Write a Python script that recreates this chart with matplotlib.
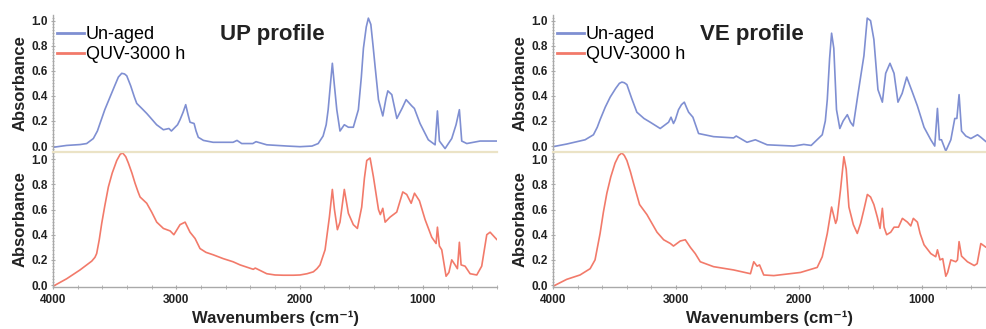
import matplotlib
matplotlib.use("Agg")
import matplotlib.pyplot as plt
from matplotlib.lines import Line2D
from matplotlib.ticker import MultipleLocator

plt.rcParams['font.family'] = ['Liberation Sans', 'DejaVu Sans']

# ---------------- data (wavenumber cm-1, absorbance) ----------------
up_unaged_wn = [4000, 3889, 3780, 3727, 3673, 3640, 3619, 3580, 3538, 3500, 3470, 3443, 3420, 3402, 3370,
                3340, 3321, 3280, 3240, 3213, 3160, 3105, 3060, 3040, 3020,
                2990, 2970, 2945, 2924, 2905, 2889, 2856, 2840, 2822, 2780, 2702, 2540, 2508, 2470, 2380,
                2354, 2267, 2100, 1997, 1900,
                1850, 1810, 1785, 1769, 1750, 1735, 1720, 1699, 1673, 1638, 1605, 1565, 1524, 1500, 1483,
                1460, 1443, 1423, 1405, 1388,
                1361, 1326, 1300, 1285, 1253, 1212, 1170, 1137, 1091, 1070, 1024, 957, 902, 883, 867, 821,
                767, 732, 705, 686, 645, 537, 400]
up_unaged_a = [-0.01, 0.005, 0.012, 0.02, 0.06, 0.12, 0.18, 0.29, 0.39, 0.48, 0.55, 0.58, 0.575, 0.56, 0.48,
               0.39, 0.34, 0.30, 0.26, 0.23, 0.17, 0.13, 0.14, 0.12, 0.14,
               0.17, 0.21, 0.27, 0.33, 0.25, 0.19, 0.18, 0.12, 0.07, 0.045, 0.03, 0.03, 0.045, 0.02, 0.02,
               0.035, 0.01, 0.0, -0.005, 0.0,
               0.02, 0.08, 0.17, 0.29, 0.50, 0.66, 0.50, 0.29, 0.12, 0.17, 0.15, 0.15, 0.29, 0.55, 0.78,
               0.95, 1.02, 0.97, 0.80, 0.63,
               0.37, 0.24, 0.38, 0.44, 0.41, 0.22, 0.30, 0.37, 0.32, 0.30, 0.18, 0.05, 0.01, 0.28, 0.04, -0.02,
               0.06, 0.17, 0.29, 0.04, 0.02, 0.04, 0.04]

up_quv_wn = [4000, 3889, 3781, 3686, 3660, 3646, 3625, 3605, 3580, 3551, 3520, 3483, 3455, 3435, 3410,
             3389, 3360, 3335, 3310, 3294, 3240, 3200, 3159, 3105,
             3050, 3020, 2970, 2929, 2889, 2848, 2808, 2760, 2700, 2620, 2540, 2483, 2376, 2360, 2267,
             2200, 2133, 2050, 1997,
             1940, 1889, 1860, 1835, 1794, 1759, 1735, 1718, 1694, 1673, 1638, 1605, 1565, 1532, 1497,
             1475, 1456, 1429,
             1402, 1361, 1346, 1326, 1307, 1267, 1213, 1164, 1132, 1096, 1069, 1029, 983, 929, 894, 883,
             867, 848, 813, 790, 767, 740, 721, 705, 691, 659, 618, 564, 524, 483, 456, 400]
up_quv_a = [-0.01, 0.05, 0.12, 0.19, 0.22, 0.25, 0.36, 0.49, 0.63, 0.78, 0.89, 0.99, 1.04, 1.05, 1.02,
            0.97, 0.89, 0.81, 0.74, 0.70, 0.65, 0.58, 0.50, 0.45,
            0.43, 0.40, 0.48, 0.50, 0.42, 0.37, 0.29, 0.26, 0.24, 0.21, 0.185, 0.16, 0.125, 0.135, 0.09,
            0.08, 0.078, 0.078, 0.08,
            0.09, 0.105, 0.13, 0.16, 0.28, 0.54, 0.76, 0.60, 0.44, 0.50, 0.76, 0.57, 0.48, 0.45, 0.62,
            0.85, 0.99, 1.01,
            0.86, 0.60, 0.56, 0.61, 0.50, 0.54, 0.58, 0.74, 0.72, 0.65, 0.73, 0.67, 0.52, 0.38, 0.33, 0.46,
            0.31, 0.28, 0.07, 0.10, 0.20, 0.16, 0.13, 0.34, 0.16, 0.15, 0.09, 0.08, 0.15, 0.40, 0.42, 0.36]

ve_unaged_wn = [4000, 3889, 3739, 3671, 3640, 3617, 3575, 3535, 3490, 3460, 3440, 3420, 3399, 3360, 3318,
                3260, 3209, 3128, 3060, 3040, 3020, 3005,
                2979, 2955, 2932, 2915, 2897, 2862, 2816, 2694, 2531, 2510, 2422, 2354, 2258, 2042, 1960,
                1900, 1810, 1785,
                1769, 1750, 1734, 1716, 1694, 1667, 1640, 1606, 1580, 1558, 1520, 1498, 1471, 1444, 1417,
                1390,
                1357, 1321, 1294, 1259, 1226, 1194, 1160, 1123, 1077, 1036, 982, 927, 895, 873, 857, 840,
                805, 764, 732, 715, 697, 677, 642, 601, 547, 520, 478]
ve_unaged_a = [-0.005, 0.016, 0.05, 0.09, 0.15, 0.21, 0.31, 0.39, 0.46, 0.50, 0.51, 0.505, 0.49, 0.38, 0.27,
               0.22, 0.19, 0.14, 0.19, 0.23, 0.18, 0.21,
               0.29, 0.33, 0.35, 0.31, 0.27, 0.23, 0.10, 0.075, 0.065, 0.08, 0.03, 0.05, 0.01, 0.0, 0.013,
               0.005, 0.09, 0.20,
               0.37, 0.70, 0.90, 0.78, 0.29, 0.14, 0.20, 0.25, 0.19, 0.16, 0.41, 0.55, 0.72, 1.02, 1.00,
               0.85,
               0.45, 0.35, 0.58, 0.66, 0.58, 0.35, 0.42, 0.55, 0.43, 0.32, 0.15, 0.05, 0.0, 0.30, 0.05, 0.05,
               -0.04, 0.05, 0.22, 0.22, 0.41, 0.12, 0.08, 0.06, 0.09, 0.07, 0.035]

ve_quv_wn = [4000, 3889, 3780, 3698, 3658, 3617, 3590, 3562, 3530, 3495, 3465, 3440, 3420, 3399, 3370,
             3345, 3296, 3236, 3154, 3100,
             3045, 3020, 2965, 2924, 2883, 2843, 2802, 2694, 2531, 2394, 2367, 2340, 2320, 2286, 2204,
             1987, 1851, 1810, 1769, 1734, 1701, 1690, 1661, 1634, 1615, 1593, 1557, 1525, 1498, 1471,
             1443, 1417, 1390, 1362, 1340, 1321, 1307, 1286, 1253, 1226, 1190, 1158, 1117, 1090, 1069,
             1036, 1014, 982, 927, 887, 873, 852, 830, 805, 790, 764, 724, 710, 697, 677, 629, 574, 550,
             520, 478]
ve_quv_a = [-0.01, 0.045, 0.08, 0.13, 0.20, 0.41, 0.58, 0.73, 0.86, 0.97, 1.03, 1.05, 1.03, 0.99, 0.90,
            0.81, 0.64, 0.56, 0.42, 0.36,
            0.33, 0.31, 0.35, 0.36, 0.30, 0.25, 0.185, 0.146, 0.12, 0.09, 0.185, 0.15, 0.16, 0.08, 0.075,
            0.10, 0.14, 0.225, 0.41, 0.62, 0.49, 0.52, 0.76, 1.02, 0.92, 0.62, 0.48, 0.41, 0.49, 0.60,
            0.72, 0.70, 0.64, 0.54, 0.45, 0.61, 0.46, 0.40, 0.42, 0.46, 0.46, 0.53, 0.50, 0.47, 0.53,
            0.50, 0.41, 0.32, 0.25, 0.225, 0.28, 0.20, 0.21, 0.07, 0.10, 0.20, 0.185, 0.20, 0.345, 0.23,
            0.185, 0.155, 0.17, 0.33, 0.30]

panel_titles = ["UP profile", "VE profile"]
legend_labels = ["Un-aged", "QUV-3000 h"]
ytick_vals = [0.0, 0.2, 0.4, 0.6, 0.8, 1.0]
xtick_vals = [4000, 3000, 2000, 1000]

# ---------------- styling ----------------
BLUE = '#7f8fd2'
RED = '#f27a6a'
SPINE = '#a9a9a9'
DIVIDER = '#ebe3c6'
TXT = '#222222'

W, H = 986, 329
fig = plt.figure(figsize=(W / 100, H / 100), dpi=100)

def fx(px):
    return px / W

def fy(py):
    return 1 - py / H

panels = [
    dict(left=53, right=497, xmax_right=400, title_x=0.495,
         unaged=(up_unaged_wn, up_unaged_a), quv=(up_quv_wn, up_quv_a), title=panel_titles[0]),
    dict(left=553, right=986, xmax_right=478, title_x=0.46,
         unaged=(ve_unaged_wn, ve_unaged_a), quv=(ve_quv_wn, ve_quv_a), title=panel_titles[1]),
]

top_y0, mid_y, bot_y1 = 15, 151.7, 287.3

def style_axis(ax, bottom_axis):
    for s in ['right', 'top']:
        ax.spines[s].set_visible(False)
    ax.spines['left'].set_color(SPINE)
    ax.spines['left'].set_linewidth(1.0)
    ax.yaxis.set_major_locator(plt.FixedLocator(ytick_vals))
    ax.yaxis.set_minor_locator(MultipleLocator(0.025))
    ax.set_yticklabels([f"{v:.1f}" for v in ytick_vals], fontsize=8.5, fontweight='bold', color=TXT)
    ax.tick_params(axis='y', which='major', length=3, color=SPINE, direction='inout', pad=2)
    ax.tick_params(axis='y', which='minor', length=2, color=SPINE, direction='inout')
    ax.set_ylabel('Absorbance', fontsize=12, fontweight='bold', color=TXT, labelpad=3)
    if bottom_axis:
        ax.spines['bottom'].set_color(SPINE)
        ax.spines['bottom'].set_linewidth(1.0)
        ax.spines['top'].set_visible(True)
        ax.spines['top'].set_color(DIVIDER)
        ax.spines['top'].set_linewidth(1.6)
        ax.xaxis.set_major_locator(plt.FixedLocator(xtick_vals))
        ax.xaxis.set_minor_locator(MultipleLocator(200))
        ax.set_xticklabels([str(v) for v in xtick_vals], fontsize=8.5, fontweight='bold', color=TXT)
        ax.tick_params(axis='x', which='major', length=3, color=SPINE, direction='inout', pad=3)
        ax.tick_params(axis='x', which='minor', length=3, color=SPINE, direction='inout')
        ax.set_xlabel('Wavenumbers (cm⁻¹)', fontsize=12, fontweight='bold', color=TXT, labelpad=4)
    else:
        ax.spines['bottom'].set_visible(False)
        ax.tick_params(axis='x', which='both', bottom=False, labelbottom=False)

for p in panels:
    l, r = fx(p['left']), fx(p['right'])
    ax_top = fig.add_axes([l, fy(mid_y), r - l, fy(top_y0) - fy(mid_y)])
    ax_bot = fig.add_axes([l, fy(bot_y1), r - l, fy(mid_y) - fy(bot_y1)])

    ax_top.plot(p['unaged'][0], p['unaged'][1], color=BLUE, lw=1.2,
                solid_joinstyle='round', solid_capstyle='round')
    ax_bot.plot(p['quv'][0], p['quv'][1], color=RED, lw=1.2,
                solid_joinstyle='round', solid_capstyle='round')

    for ax in (ax_top, ax_bot):
        ax.set_xlim(4000, p['xmax_right'])
    ax_top.set_ylim(-0.045, 1.045)
    ax_bot.set_ylim(-0.018, 1.06)

    style_axis(ax_top, False)
    style_axis(ax_bot, True)

    handles = [Line2D([], [], color=BLUE, lw=2), Line2D([], [], color=RED, lw=2)]
    ax_top.legend(handles, legend_labels, loc='upper left', bbox_to_anchor=(0.0, 0.945),
                  frameon=False, fontsize=13, handlelength=1.5, handletextpad=0.1,
                  labelspacing=0.15, borderaxespad=0.0, borderpad=0.2)
    ax_top.text(p['title_x'], 0.855, p['title'], transform=ax_top.transAxes,
                ha='center', va='center', fontsize=16, fontweight='bold', color=TXT)

fig.savefig('out.png', dpi=100)
